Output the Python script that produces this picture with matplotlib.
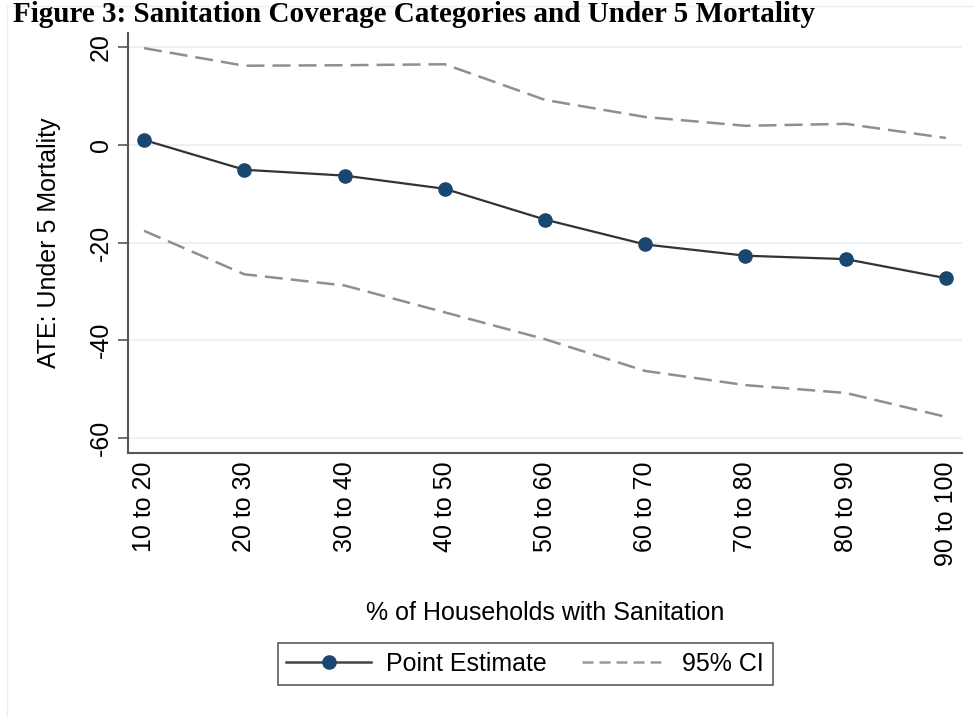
import matplotlib
matplotlib.use("Agg")
import matplotlib.pyplot as plt
from matplotlib.lines import Line2D

categories = ["10 to 20", "20 to 30", "30 to 40", "40 to 50", "50 to 60",
              "60 to 70", "70 to 80", "80 to 90", "90 to 100"]
point_est = [1.0, -5.1, -6.3, -9.0, -15.3, -20.4, -22.7, -23.4, -27.3]
ci_upper = [19.8, 16.2, 16.3, 16.5, 9.2, 5.7, 3.9, 4.3, 1.4]
ci_lower = [-17.6, -26.5, -28.8, -34.3, -39.8, -46.3, -49.2, -50.8, -55.7]
yticks = [20, 0, -20, -40, -60]

plt.rcParams['font.family'] = ['Liberation Sans', 'DejaVu Sans']

W, H = 974, 717
fig = plt.figure(figsize=(W / 100, H / 100), dpi=100)
fig.patch.set_facecolor('white')

# faint outer graph-region outline
fig.add_artist(Line2D([7 / W, 7 / W], [0, 1 - 6 / H], color='#eeeeee', lw=1, transform=fig.transFigure))
fig.add_artist(Line2D([7 / W, 1], [1 - 6 / H, 1 - 6 / H], color='#eeeeee', lw=1, transform=fig.transFigure))

# title at very top
fig.text(13 / W, 1 - 22 / H, "Figure 3: Sanitation Coverage Categories and Under 5 Mortality",
         ha='left', va='baseline', fontsize=21, fontweight='bold',
         family=['Liberation Serif', 'DejaVu Serif'], color='black')

left, right = 128 / W, 962 / W
bottom, top = 1 - 453 / H, 1 - 33 / H
ax = fig.add_axes([left, bottom, right - left, top - bottom])

x = list(range(len(categories)))
ax.set_xlim(-0.16, 8.16)
ax.set_ylim(-63.1, 22.9)

for yv in yticks:
    ax.axhline(yv, color='#eaf2f3', lw=1.5, zorder=0)

ci_color = '#8f8f8f'
ax.plot(x, ci_upper, color=ci_color, lw=1.8, dashes=(7.2, 3.2), zorder=2)
ax.plot(x, ci_lower, color=ci_color, lw=1.8, dashes=(7.2, 3.2), zorder=2)
ax.plot(x, point_est, color='#333333', lw=1.6, marker='o', markersize=9.5,
        markerfacecolor='#1a476f', markeredgecolor='#1a476f', zorder=3)

ax.set_xticks(x)
ax.set_xticklabels(categories, rotation=90, va='top', ha='center', fontsize=18)
ax.set_yticks(yticks)
ax.set_yticklabels([str(v) for v in yticks], rotation=90, va='center', fontsize=18)
ax.tick_params(axis='x', length=0, pad=6)
ax.tick_params(axis='y', length=7, width=1.2, color='#555555', pad=4)

for s in ['top', 'right']:
    ax.spines[s].set_visible(False)
for s in ['left', 'bottom']:
    ax.spines[s].set_color('#555555')
    ax.spines[s].set_linewidth(1.5)

ax.set_ylabel("ATE: Under 5 Mortality", fontsize=18, labelpad=20)
fig.text((365 + 725) / 2 / W, 1 - 613 / H, "% of Households with Sanitation",
         ha='center', va='center', fontsize=18)

h1 = Line2D([], [], color='#444444', lw=1.8, marker='o', markersize=9.5,
            markerfacecolor='#1a476f', markeredgecolor='#1a476f')
h2 = Line2D([], [], color='#9a9a9a', lw=1.8, dashes=(4.4, 2.4))
leg = fig.legend([h1, h2], ["Point Estimate", "95% CI"], loc='center',
                 bbox_to_anchor=((282 + 768) / 2 / W, 1 - 664 / H), ncol=2,
                 fontsize=18, frameon=True, fancybox=False, handlelength=3.4,
                 columnspacing=1.4, handletextpad=0.6, borderpad=0.35,
                 borderaxespad=0)
leg.get_frame().set_edgecolor('#333333')
leg.get_frame().set_linewidth(1.2)

fig.savefig("out.png", dpi=100, facecolor='white')
